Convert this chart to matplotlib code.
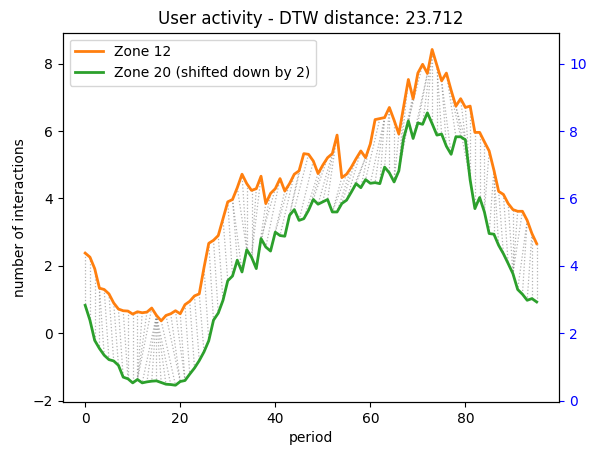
"""DTW alignment chart: user activity of two zones, with matched points joined."""
import matplotlib

matplotlib.use("Agg")
import matplotlib.pyplot as plt  # noqa: E402
import numpy as np  # noqa: E402

TITLE = "User activity - DTW distance: 23.712"
SHIFT = 2
WINDOW = 3  # Sakoe-Chiba band used for the alignment

# hourly-ish periods 0..95
zone_12 = [
    2.38, 2.26, 1.92, 1.34, 1.30, 1.17, 0.90, 0.72, 0.67, 0.66,
    0.57, 0.64, 0.61, 0.63, 0.75, 0.53, 0.37, 0.53, 0.58, 0.67,
    0.58, 0.85, 0.95, 1.11, 1.17, 1.95, 2.67, 2.76, 2.90, 3.40,
    3.90, 3.97, 4.32, 4.72, 4.44, 4.24, 4.29, 4.66, 3.85, 4.15,
    4.29, 4.59, 4.22, 4.44, 4.72, 4.82, 5.33, 5.31, 5.11, 4.74,
    4.99, 5.21, 5.33, 5.88, 4.62, 4.72, 4.93, 5.18, 5.41, 5.21,
    5.62, 6.34, 6.37, 6.40, 6.70, 6.32, 5.91, 6.72, 7.53, 6.96,
    7.72, 7.98, 7.71, 8.42, 7.95, 7.49, 7.72, 7.21, 6.74, 6.96,
    6.70, 6.74, 5.96, 5.96, 5.68, 5.41, 4.84, 4.21, 4.12, 3.85,
    3.67, 3.62, 3.62, 3.35, 2.96, 2.66,
]
# zone 20 as plotted, i.e. already shifted down by SHIFT
zone_20_shifted = [
    0.83, 0.39, -0.21, -0.45, -0.65, -0.78, -0.82, -0.95, -1.30, -1.35,
    -1.47, -1.37, -1.47, -1.44, -1.42, -1.41, -1.46, -1.51, -1.52, -1.54,
    -1.43, -1.40, -1.21, -1.03, -0.81, -0.55, -0.22, 0.39, 0.60, 0.98,
    1.56, 1.70, 2.17, 1.82, 2.48, 2.26, 1.92, 2.81, 2.56, 2.44,
    3.00, 2.90, 2.88, 3.50, 3.67, 3.35, 3.40, 3.65, 3.97, 3.83,
    3.90, 3.97, 3.60, 3.60, 3.85, 3.95, 4.19, 4.44, 4.32, 4.56,
    4.45, 4.47, 4.44, 4.93, 4.76, 4.49, 4.82, 5.78, 6.30, 5.78,
    6.24, 6.20, 6.54, 6.22, 5.88, 5.91, 5.55, 5.31, 5.83, 5.83,
    5.74, 4.55, 3.70, 4.03, 3.60, 2.96, 2.94, 2.61, 2.36, 2.07,
    1.77, 1.30, 1.16, 0.98, 1.03, 0.93,
]


def dtw_path(a, b, window):
    """Banded DTW with absolute cost; returns the warping path as (i, j) pairs."""
    n, m = len(a), len(b)
    acc = np.full((n + 1, m + 1), np.inf)
    acc[0, 0] = 0.0
    for i in range(1, n + 1):
        for j in range(max(1, i - window), min(m, i + window) + 1):
            cost = abs(a[i - 1] - b[j - 1])
            acc[i, j] = cost + min(acc[i - 1, j], acc[i, j - 1], acc[i - 1, j - 1])
    i, j = n, m
    path = [(i - 1, j - 1)]
    while i > 1 or j > 1:
        steps = [(acc[i - 1, j - 1], i - 1, j - 1),
                 (acc[i - 1, j], i - 1, j),
                 (acc[i, j - 1], i, j - 1)]
        _, i, j = min(steps)
        path.append((i - 1, j - 1))
    return path[::-1]


def main():
    s1 = np.array(zone_12)
    s2 = np.array(zone_20_shifted)
    periods = np.arange(len(s1))

    fig, ax = plt.subplots(figsize=(6.02, 4.54), dpi=100)
    fig.subplots_adjust(left=0.104, right=0.929, top=0.928, bottom=0.1145)

    # dotted links between the matched points (DTW on the unshifted series)
    for i, j in dtw_path(s1, s2 + SHIFT, WINDOW):
        ax.plot([i, j], [s1[i], s2[j]], ":", color="grey", linewidth=0.9, alpha=0.6)

    ax.plot(periods, s1, color="C1", linewidth=2, label="Zone 12")
    ax.plot(periods, s2, color="C2", linewidth=2,
            label=f"Zone 20 (shifted down by {SHIFT})")
    ax.set_title(TITLE)
    ax.set_xlabel("period")
    ax.set_ylabel("number of interactions")
    ax.legend(loc="upper left")

    # right axis shows zone 20 on its own (unshifted) scale
    ax2 = ax.twinx()
    lo, hi = ax.get_ylim()
    ax2.set_ylim(lo + SHIFT, hi + SHIFT)
    ax2.tick_params(axis="y", colors="blue")

    fig.savefig("out.png", dpi=100)
    plt.close(fig)


if __name__ == "__main__":
    main()
